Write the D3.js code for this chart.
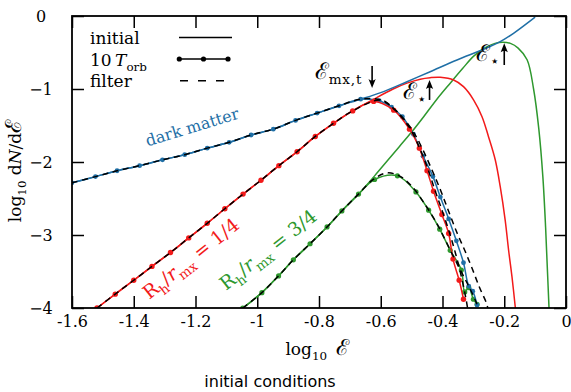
<!DOCTYPE html>
<html>
<head>
<meta charset="utf-8">
<script src="https://cdn.jsdelivr.net/npm/d3@7"></script>
<style>
  body { margin: 0; background: #fff; }
  text { font-family: "DejaVu Serif", serif; }
</style>
</head>
<body>
<div id="chart"></div>
<script>
const xTicks = [-1.6, -1.4, -1.2, -1, -0.8, -0.6, -0.4, -0.2, 0];
const yTicks = [0, -1, -2, -3, -4];

// dark matter
const blueRise = [[-1.600,-2.285],[-1.524,-2.20],[-1.454,-2.12],[-1.381,-2.05],[-1.307,-1.97],[-1.235,-1.90],
  [-1.162,-1.81],[-1.091,-1.73],[-1.020,-1.63],[-0.948,-1.55],[-0.876,-1.43],[-0.806,-1.33],[-0.735,-1.23],[-0.665,-1.14]];
const blueInitialTail = [[-0.600,-1.05],[-0.515,-0.90],[-0.440,-0.763],[-0.353,-0.603],[-0.267,-0.456],
  [-0.213,-0.352],[-0.170,-0.237],[-0.100,-0.015]];
const blueEvolvedTail = [[-0.605,-1.16],[-0.565,-1.25],[-0.530,-1.38],[-0.494,-1.62],[-0.463,-1.92],[-0.431,-2.20],
  [-0.407,-2.48],[-0.380,-2.78],[-0.355,-3.08],[-0.332,-3.38],[-0.315,-3.70],[-0.302,-3.77],[-0.288,-3.96]];
const blueFilterTail = [[-0.600,-1.15],[-0.550,-1.30],[-0.500,-1.55],[-0.465,-1.82],[-0.435,-2.10],[-0.405,-2.40],
  [-0.378,-2.70],[-0.352,-2.98],[-0.327,-3.22],[-0.302,-3.48],[-0.280,-3.72],[-0.258,-3.93],[-0.252,-4.02]];

// Rh/rmx = 1/4
const redRise = [[-1.519,-4.0],[-1.460,-3.81],[-1.400,-3.62],[-1.341,-3.43],[-1.281,-3.24],[-1.222,-3.04],
  [-1.162,-2.84],[-1.105,-2.64],[-1.046,-2.44],[-0.988,-2.25],[-0.930,-2.05],[-0.871,-1.86],[-0.812,-1.65],
  [-0.753,-1.47],[-0.691,-1.30]];
const redInitialTail = [[-0.623,-1.14],[-0.560,-1.00],[-0.515,-0.92],[-0.472,-0.865],[-0.440,-0.845],[-0.407,-0.84],
  [-0.364,-0.877],[-0.332,-0.968],[-0.299,-1.151],[-0.272,-1.379],[-0.251,-1.653],[-0.229,-1.973],[-0.213,-2.338],
  [-0.197,-2.795],[-0.186,-3.205],[-0.175,-3.571],[-0.164,-4.0]];
const redEvolvedTail = [[-0.623,-1.17],[-0.558,-1.29],[-0.507,-1.55],[-0.475,-1.81],[-0.450,-2.12],[-0.429,-2.40],
  [-0.402,-2.72],[-0.380,-2.98],[-0.366,-3.33],[-0.346,-3.62],[-0.332,-3.88]];
const redFilterTail = [[-0.600,-1.15],[-0.558,-1.27],[-0.507,-1.53],[-0.475,-1.80],[-0.447,-2.10],[-0.425,-2.38],
  [-0.400,-2.68],[-0.378,-2.96],[-0.358,-3.25],[-0.340,-3.55],[-0.325,-3.85],[-0.318,-4.02]];

// Rh/rmx = 3/4
const greenRise = [[-1.047,-4.0],[-0.985,-3.79],[-0.931,-3.56],[-0.883,-3.34],[-0.829,-3.12],[-0.774,-2.89],
  [-0.726,-2.67],[-0.672,-2.44]];
const greenInitialTail = [[-0.620,-2.19],[-0.580,-1.99],[-0.540,-1.79],[-0.500,-1.59],[-0.461,-1.38],[-0.420,-1.15],
  [-0.375,-0.92],[-0.335,-0.72],[-0.299,-0.55],[-0.260,-0.43],[-0.230,-0.375],[-0.205,-0.36],[-0.180,-0.375],
  [-0.155,-0.44],[-0.126,-0.60],[-0.105,-1.00],[-0.088,-1.55],[-0.075,-2.20],[-0.066,-2.90],[-0.060,-3.50],[-0.055,-4.0]];
const greenEvolvedTail = [[-0.620,-2.24],[-0.546,-2.19],[-0.486,-2.41],[-0.445,-2.66],[-0.409,-2.92],[-0.375,-3.21],
  [-0.339,-3.48],[-0.328,-3.78],[-0.315,-3.72],[-0.300,-3.88],[-0.288,-3.95]];
const greenFilterTail = [[-0.625,-2.24],[-0.580,-2.15],[-0.540,-2.19],[-0.500,-2.33],[-0.460,-2.56],[-0.420,-2.83],
  [-0.385,-3.12],[-0.352,-3.40],[-0.320,-3.66],[-0.295,-3.88],[-0.282,-4.02]];

const width = 571, height = 392;
const margin = { top: 16, right: 5, bottom: 84, left: 72 };
const blue = "#1f6fa6", red = "#f21a1a", green = "#2e982e";

const x = d3.scaleLinear().domain([-1.6, 0]).range([margin.left, width - margin.right]);
const y = d3.scaleLinear().domain([0, -4]).range([margin.top, height - margin.bottom]);

const svg = d3.select("#chart").append("svg")
  .attr("width", width)
  .attr("height", height);

svg.append("clipPath").attr("id", "plot")
  .append("rect")
  .attr("x", margin.left).attr("y", margin.top)
  .attr("width", width - margin.left - margin.right)
  .attr("height", height - margin.top - margin.bottom);

// rich text: sub = subscript, big = calligraphic E scale
function rich(sel, parts, fs) {
  let shift = 0;
  parts.forEach(p => {
    const s = sel.append("tspan").text(p.t);
    const target = p.sub ? fs * 0.3 : 0;
    if (target !== shift) { s.attr("dy", target - shift); shift = target; }
    if (p.sub) s.attr("font-size", fs * (p.subScale || 0.7));
    if (p.big) s.attr("font-size", fs * p.big);
    if (p.it) s.attr("font-style", "italic");
    if (p.ls) s.attr("letter-spacing", p.ls);
  });
}

// axes, ticks pointing inwards on all sides
const fs = 16;
svg.append("g")
  .attr("transform", `translate(0,${y(-4)})`)
  .call(d3.axisBottom(x).tickValues(xTicks).tickSize(-12).tickPadding(8).tickFormat(d => String(d)))
  .call(g => g.select(".domain").remove())
  .call(g => g.selectAll("text").attr("font-size", fs).attr("fill", "#000"));
svg.append("g")
  .attr("transform", `translate(0,${y(0)})`)
  .call(d3.axisTop(x).tickValues(xTicks).tickSize(-12).tickFormat(""))
  .call(g => g.select(".domain").remove());
svg.append("g")
  .attr("transform", `translate(${x(-1.6)},0)`)
  .call(d3.axisLeft(y).tickValues(yTicks).tickSize(-12).tickPadding(0)
    .tickFormat(d => d === 0 ? "0" : "\u2212" + Math.abs(d)))
  .call(g => g.select(".domain").remove())
  .call(g => g.selectAll("text").attr("font-size", fs).attr("fill", "#000")
    .attr("text-anchor", "middle").attr("x", -31));
svg.append("g")
  .attr("transform", `translate(${x(0)},0)`)
  .call(d3.axisRight(y).tickValues(yTicks).tickSize(-12).tickFormat(""))
  .call(g => g.select(".domain").remove());
svg.selectAll(".tick line").attr("stroke", "#000").attr("stroke-width", 1.5);

// curves
const line = d3.line().x(d => x(d[0])).y(d => y(d[1])).curve(d3.curveCatmullRom.alpha(0.5));
const plot = svg.append("g").attr("clip-path", "url(#plot)");

const initials = [
  { pts: greenRise.concat(greenInitialTail), color: green },
  { pts: redRise.concat(redInitialTail), color: red },
  { pts: blueRise.concat(blueInitialTail), color: blue }
];
plot.selectAll("path.initial")
  .data(initials)
  .enter()
  .append("path")
  .attr("class", "initial")
  .attr("d", d => line(d.pts))
  .attr("fill", "none")
  .attr("stroke", d => d.color)
  .attr("stroke-width", 1.5);

const evolved = [
  { pts: greenRise.concat(greenEvolvedTail), color: green, r: 2.6 },
  { pts: blueRise.concat(blueEvolvedTail), color: blue, r: 2.4 },
  { pts: redRise.concat(redEvolvedTail), color: red, r: 2.7 }
];
evolved.forEach(s => {
  plot.append("path")
    .attr("d", line(s.pts))
    .attr("fill", "none")
    .attr("stroke", s.color)
    .attr("stroke-width", 1.5);
  plot.append("g")
    .selectAll("circle")
    .data(s.pts)
    .enter()
    .append("circle")
    .attr("cx", d => x(d[0]))
    .attr("cy", d => y(d[1]))
    .attr("r", s.r)
    .attr("fill", s.color);
});

const filters = [
  greenRise.concat(greenFilterTail),
  redRise.concat(redFilterTail),
  blueRise.concat(blueFilterTail)
];
plot.selectAll("path.filter")
  .data(filters)
  .enter()
  .append("path")
  .attr("class", "filter")
  .attr("d", d => line(d))
  .attr("fill", "none")
  .attr("stroke", "#000")
  .attr("stroke-width", 1.5)
  .attr("stroke-dasharray", "6,4.5");

// frame
svg.append("rect")
  .attr("x", x(-1.6)).attr("y", y(0))
  .attr("width", x(0) - x(-1.6)).attr("height", y(-4) - y(0))
  .attr("fill", "none").attr("stroke", "#000").attr("stroke-width", 1.8);

// legend
const lg = svg.append("g").attr("font-size", 17);
lg.append("text").attr("x", 90).attr("y", 44).text("initial");
lg.append("line").attr("x1", 179).attr("x2", 232).attr("y1", 37.5).attr("y2", 37.5)
  .attr("stroke", "#000").attr("stroke-width", 1.5);
rich(lg.append("text").attr("x", 90).attr("y", 65.5),
  [{ t: "10\u2009" }, { t: "T", it: true }, { t: "orb", sub: true }], 17);
lg.append("line").attr("x1", 179).attr("x2", 229).attr("y1", 59).attr("y2", 59)
  .attr("stroke", "#000").attr("stroke-width", 1.5);
lg.selectAll("circle").data([179.3, 203.5, 228]).enter().append("circle")
  .attr("cx", d => d).attr("cy", 59).attr("r", 2.6).attr("fill", "#000");
lg.append("text").attr("x", 90).attr("y", 87).text("filter");
lg.append("line").attr("x1", 180).attr("x2", 224).attr("y1", 80.7).attr("y2", 80.7)
  .attr("stroke", "#000").attr("stroke-width", 1.5).attr("stroke-dasharray", "8,10");

// curve labels
function label(cx, cy, angle, color, parts, size) {
  const t = svg.append("text")
    .attr("transform", `translate(${x(cx)},${y(cy)}) rotate(${angle})`)
    .attr("text-anchor", "middle")
    .attr("y", size * 0.35)
    .attr("font-size", size)
    .attr("fill", color);
  rich(t, parts, size);
}
const ratio = r => [{ t: "R" }, { t: "h", sub: true }, { t: "/" }, { t: "r", it: true }, { t: "mx", sub: true }, { t: " = " + r }];
label(-1.211, -1.52, -17, blue, [{ t: "dark matter" }], 16);
label(-1.215, -3.32, -38.5, red, ratio("1/4"), 19);
label(-0.965, -3.20, -38, green, ratio("3/4"), 19);

// energy markers
function arrow(xv, fromV, tipV) {
  const px = x(xv), y0 = y(fromV), y1 = y(tipV);
  const dir = y1 < y0 ? 1 : -1;
  svg.append("line")
    .attr("x1", px).attr("x2", px)
    .attr("y1", y0).attr("y2", y1 + dir * 6)
    .attr("stroke", "#000").attr("stroke-width", 1.6);
  svg.append("path")
    .attr("d", `M${px},${y1} L${px - 3.6},${y1 + dir * 9} Q${px},${y1 + dir * 6} ${px + 3.6},${y1 + dir * 9} Z`)
    .attr("fill", "#000");
}
function note(xv, yv, parts) {
  const t = svg.append("text")
    .attr("x", x(xv)).attr("y", y(yv))
    .attr("text-anchor", "end")
    .attr("font-size", 17);
  rich(t, parts, 17);
}
arrow(-0.628, -0.685, -0.986);
note(-0.660, -0.86, [{ t: "\u2130", big: 1.35 }, { t: "mx,t", sub: true, subScale: 0.8, ls: 0.8 }]);
arrow(-0.442, -1.15, -0.877);
note(-0.455, -1.14, [{ t: "\u2130", big: 1.35 }, { t: "\u22c6", sub: true, subScale: 0.9 }]);
arrow(-0.200, -0.671, -0.374);
note(-0.216, -0.62, [{ t: "\u2130", big: 1.35 }, { t: "\u22c6", sub: true, subScale: 0.9 }]);

// axis titles
const xl = svg.append("text")
  .attr("x", 317).attr("y", 355)
  .attr("text-anchor", "middle")
  .attr("font-size", 17);
rich(xl, [{ t: "log" }, { t: "10", sub: true }, { t: "\u2002" }, { t: "\u2130", big: 1.3 }], 17);

const yl = svg.append("text")
  .attr("transform", "translate(21,171) rotate(-90)")
  .attr("text-anchor", "middle")
  .attr("font-size", 17);
rich(yl, [{ t: "log" }, { t: "10", sub: true }, { t: " d" }, { t: "N", it: true }, { t: "/d" }, { t: "\u2130", big: 1.3 }], 17);

svg.append("text")
  .attr("x", 270).attr("y", 387)
  .attr("text-anchor", "middle")
  .style("font-family", "'DejaVu Sans', sans-serif")
  .attr("font-size", 16)
  .text("initial conditions");
</script>
</body>
</html>
